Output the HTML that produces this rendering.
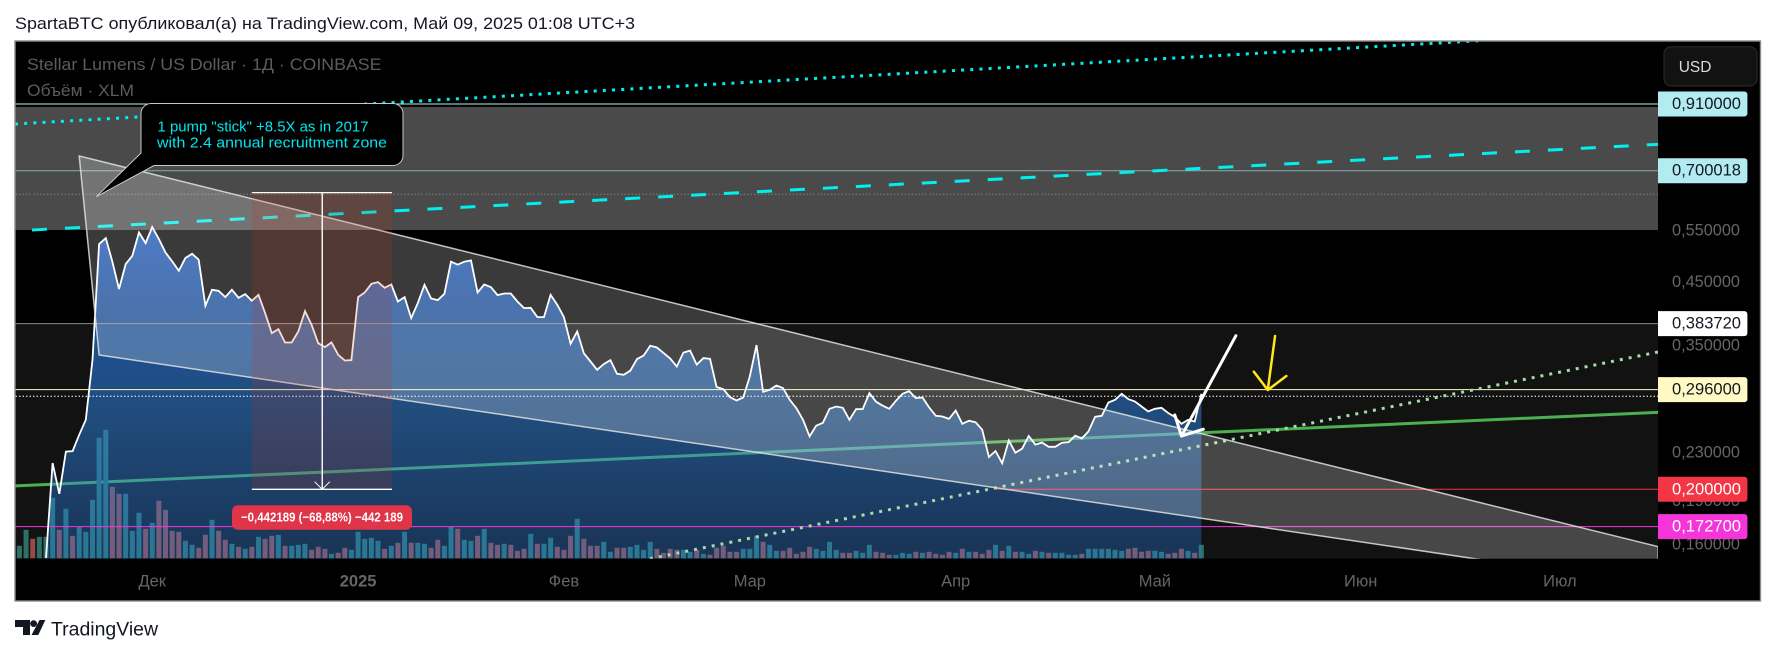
<!DOCTYPE html>
<html lang="ru">
<head>
<meta charset="utf-8">
<title>Stellar Lumens / US Dollar chart</title>
<style>
html,body{margin:0;padding:0;background:#fff;width:1776px;height:655px;overflow:hidden}
svg{display:block;font-family:"Liberation Sans","Noto Sans CJK SC",sans-serif}
</style>
</head>
<body>
<svg id="chart" xmlns="http://www.w3.org/2000/svg" width="1776" height="655" viewBox="0 0 1776 655">
  <defs>
    <clipPath id="pane-clip"><rect x="15.5" y="41.5" width="1642.5" height="517.2"/></clipPath>
    <linearGradient id="area-gradient" gradientUnits="userSpaceOnUse" x1="0" x2="0" y1="227" y2="558.7">
      <stop offset="0" stop-color="rgb(33,104,224)" stop-opacity="0.82"/>
      <stop offset="0.22" stop-color="rgb(29,97,199)" stop-opacity="0.76"/>
      <stop offset="0.58" stop-color="rgb(46,132,226)" stop-opacity="0.5"/>
      <stop offset="1" stop-color="rgb(40,130,240)" stop-opacity="0.3"/>
    </linearGradient>
  </defs>
  <text x="15" y="29" font-size="17" fill="#131722" textLength="620" lengthAdjust="spacingAndGlyphs">SpartaBTC опубликовал(а) на TradingView.com, Май 09, 2025 01:08 UTC+3</text>
  <rect x="15" y="41" width="1745" height="560" fill="#000"/>
  <g id="pane" clip-path="url(#pane-clip)"></g>
  <path d="M151,103.5 H393 a10,10 0 0 1 10,10 V155.5 a10,10 0 0 1 -10,10 H154 L96.4,196.7 L141,153 V113.5 a10,10 0 0 1 10,-10 Z" fill="#000" stroke="#c8c8c8" stroke-width="1"/>
  <text x="157.5" y="131.5" font-size="15" fill="#00e5ee" textLength="211" lengthAdjust="spacingAndGlyphs">1 pump "stick" +8.5X as in 2017</text>
  <text x="157" y="147.5" font-size="15" fill="#00e5ee" textLength="230" lengthAdjust="spacingAndGlyphs">with 2.4 annual recruitment zone</text>
  <rect x="232" y="505.3" width="180" height="24.4" rx="6" fill="#e03448"/>
  <text x="241" y="521.5" font-size="13" font-weight="bold" fill="#fff" textLength="162" lengthAdjust="spacingAndGlyphs">−0,442189 (−68,88%) −442 189</text>
  <text x="27" y="70" font-size="17" fill="#5c5c5c" textLength="354.5" lengthAdjust="spacingAndGlyphs">Stellar Lumens / US Dollar · 1Д · COINBASE</text>
  <text x="27" y="96" font-size="17" fill="#5c5c5c" textLength="107" lengthAdjust="spacingAndGlyphs">Объём · XLM</text>
  <g id="price-axis"></g>
  <g id="time-axis"></g>
  <rect x="1664" y="46.7" width="93" height="39.3" rx="7" fill="#121212" stroke="#2c2c2c" stroke-width="1"/>
  <text x="1678.7" y="72" font-size="15.5" fill="#dcdcdc">USD</text>
  <rect x="15" y="41" width="1745.5" height="560" fill="none" stroke="#8c8c8c" stroke-width="1.4"/>
  <g>
    <path d="M15,620 H30 V635 H23 V627 H15 Z" fill="#131722"/>
    <circle cx="33.6" cy="623.6" r="3.4" fill="#131722"/>
    <path d="M39.5,620 H45.3 L38.3,635 H31.5 Z" fill="#131722"/>
    <text x="51" y="635.6" font-size="19" fill="#131722" textLength="107" lengthAdjust="spacingAndGlyphs">TradingView</text>
  </g>
</svg>
<script>
const prices = [
  .1527,.2217,.1965,.2320,.2324,.2478,.2629,.3328,.5246,.5371,.4893,.4395,.4850,.5010,.5491,.5266,.5609,.5350,.5075,.4900,.4723,.4966,.5050,.4933,
  .4115,.4383,.4366,.4259,.4383,.4247,.4309,.4197,.4298,.3999,.3696,.3755,.3562,.3562,.3720,.4030,.3819,.3553,.3498,
  .3562,.3394,.3319,.3324,.4259,.4337,.4488,.4518,.4418,.4475,.4186,.4259,.3921,.4159,.4470,.4235,.4209,.4315,.4894,.4837,
  .4894,.4919,.4337,.4475,.4430,.4292,.4319,.4319,.4186,.4078,.4083,.3936,.3936,.4298,.4132,.3936,.3544,.3720,.3416,.3306,.3200,
  .3272,.3324,.3150,.3138,.3188,.3337,.3384,.3516,.3493,.3420,.3345,.3242,.3424,.3451,.3266,.3350,.3341,.2990,.2966,.2874,
  .2836,.2870,.3116,.3526,.2935,.2958,.3008,.2978,.2844,.2752,.2629,.2462,.2568,.2598,.2745,.2770,.2756,.2629,.2742,.2742,
  .2920,.2822,.2778,.2745,.2833,.2912,.2943,.2863,.2870,.2760,.2670,.2663,.2638,.2726,.2588,.2619,.2603,.2528,.2271,.2325,.2215,.2423,.2310,.2346,
  .2466,.2383,.2404,.2364,.2364,.2402,.2408,.2469,.2442,.2511,.2660,.2670,.2814,.2844,.2912,.2852,.2825,.2770,.2716,.2745,.2756,.2700,.2658,.2588,.2629,.2611,.2912
];
const volumeFirstDay = -5;
const volumes = [
  33,25,57,39,43,43,
  121,57,99,45,63,53,117,241,257,143,129,129,55,91,59,71,115,97,55,53,35,27,21,47,77,55,37,29,23,19,
  23,43,39,45,47,25,25,27,29,17,23,19,9,11,21,17,53,39,41,35,19,25,31,53,31,31,29,21,37,25,
  63,59,37,35,45,59,31,27,29,27,15,19,49,29,29,41,23,17,45,79,39,25,25,
  33,13,21,21,23,27,17,33,19,11,19,17,17,13,17,9,7,21,25,13,13,19,19,45,33,27,15,15,21,9,13,23,19,15,33,17,11,11,15,11,27,13,11,7,7,
  11,9,13,11,13,9,7,13,11,19,13,13,9,17,27,15,25,13,13,9,15,13,11,11,11,7,7,9,19,19,19,19,17,15,19,21,13,15,15,13,9,11,19,15,11,27
];
const volumeDirections = (
  'u u u d u u ' +
  'u d u d u u u u u d ' +
  'd u u u d u d d d d ' +
  'u u d d u d d u d u ' +
  'd u d d u d u u u d ' +
  'd d u d d u u u u u ' +
  'd u d u d u u d d u ' +
  'u d u u d u d d u d ' +
  'd d u d u u d d d u ' +
  'd d d u u d d u u u ' +
  'u d d d d u u d u d ' +
  'd d d d u u u d u u ' +
  'd d d d d u u u u d ' +
  'd u u u d d d u u u ' +
  'd u d d d d u d u d ' +
  'd d u d u d u u d u ' +
  'd u u u u d u u u u ' +
  'u u d d d d u u d d ' +
  'd u d u'
).split(' ');
const priceTicks = [0.55,0.45,0.35,0.23,0.19,0.16];
const priceTickLabels = ['0,550000','0,450000','0,350000','0,230000','0,190000','0,160000'];
const levelPrices = [0.91,0.700018,0.38372,0.296,0.2,0.1727];
const levelLabels = ['0,910000','0,700018','0,383720','0,296000','0,200000','0,172700'];
const timeTickDays = [16,47,78,106,137,167,198,228];
const timeTickLabels = ['Дек','2025','Фев','Мар','Апр','Май','Июн','Июл'];
const zonePrices = [0.8993,0.5545];
const dottedLevelPrices = [0.6381,0.2883];
const measureDays = [31,52.1,41.6];
const measurePrices = [0.642189,0.2];
const wedgeDays = [5,8,242.8,242.8];
const wedgePrices = [0.7417,0.3392,0.1368,0.1596];
const cyanDottedDays = [-4.67,216.1];
const cyanDottedPrices = [0.8412,1.1677];
const cyanDashedDays = [-2.11,242.8];
const cyanDashedPrices = [0.5545,0.7766];
const greenDays = [-4.67,242.8];
const greenPrices = [0.2027,0.2707];
const greenDottedDays = [90.96,242.8];
const greenDottedPrices = [0.1522,0.3432];
const whiteArrowDays = [171,179.2,170,174.3];
const whiteArrowPrices = [0.2466,0.3659,0.2679,0.2533];
const yellowArrowDays = [185.1,184,181.9,186.8];
const yellowArrowPrices = [0.3655,0.2956,0.3176,0.3122];

const NS = 'http://www.w3.org/2000/svg';
const pane = document.getElementById('pane');
const priceAxis = document.getElementById('price-axis');
const timeAxis = document.getElementById('time-axis');
const paneLeft = 15.5, paneRight = 1658, paneBottom = 558.7;
const xOf = d => 46 + 6.64 * d;
const yOf = p => 104 + 254.3 * Math.log(0.91 / p);
const volY = v => 558.3 - v * 0.5;

function mk(tag, parent, attrs) {
  const e = document.createElementNS(NS, tag);
  for (const k in attrs) e.setAttribute(k, attrs[k]);
  parent.appendChild(e);
  return e;
}
function segment(days, vals, a, b) {
  return 'M' + xOf(days[a]) + ',' + yOf(vals[a]) + ' L' + xOf(days[b]) + ',' + yOf(vals[b]);
}

let el;
el = mk('rect', pane, {x: paneLeft, y: 41, width: paneRight - paneLeft, height: yOf(levelPrices[2]) - 41, fill: '#000'});


el = mk('rect', pane, {x: paneLeft, y: yOf(levelPrices[2]), width: paneRight - paneLeft, height: paneBottom - yOf(levelPrices[2]), fill: '#121212'});


el = mk('rect', pane, {x: paneLeft, y: yOf(zonePrices[0]), width: paneRight - paneLeft, height: yOf(zonePrices[1]) - yOf(zonePrices[0]), fill: '#4a4a4a'});



el = mk('path', pane, {d: segment(greenDays, greenPrices, 0, 1), stroke: '#4caf50', 'stroke-width': 3, fill: 'none'});



volumes.forEach((v, i) => {
  const day = i + volumeFirstDay;
  const up = volumeDirections[i] === 'u';
  const bar = mk('rect', pane, {x: xOf(day) - 2.5, y: volY(v), width: 5, height: 558.3 - volY(v), fill: up ? 'rgb(44,112,104)' : 'rgb(150,75,70)'});
  
  
});

const topY = Math.min.apply(null, prices.map(yOf));
document.getElementById('area-gradient').setAttribute('y1', topY);
const linePts = prices.map((p, i) => xOf(i).toFixed(1) + ',' + yOf(p).toFixed(1));
el = mk('path', pane, {d: 'M' + xOf(0) + ',' + paneBottom + ' L' + linePts.join(' L') + ' L' + xOf(prices.length - 1) + ',' + paneBottom + ' Z', fill: 'url(#area-gradient)'});



const levelStroke = ['#b2ebf2','#86aeb3','#8a8a8a','#fff9c4','#f23645','#f535da'];
const levelStart = [paneLeft,paneLeft,paneLeft,paneLeft,xOf(143),paneLeft];
levelPrices.forEach((p, i) => {
  const line = mk('line', pane, {x1: levelStart[i], x2: paneRight, y1: yOf(p), y2: yOf(p), stroke: levelStroke[i], 'stroke-width': 1});
  
  
});
const dottedStroke = ['#808080','#ffffff'];
dottedLevelPrices.forEach((p, i) => {
  const line = mk('line', pane, {x1: paneLeft, x2: paneRight, y1: yOf(p), y2: yOf(p), stroke: dottedStroke[i], 'stroke-width': 1, 'stroke-dasharray': '1.5 2'});
  
  
});

el = mk('polyline', pane, {points: linePts.join(' '), fill: 'none', stroke: '#fff', 'stroke-width': 1.8, 'stroke-linejoin': 'miter'});



el = mk('path', pane, {d: segment(greenDottedDays, greenDottedPrices, 0, 1), stroke: '#a5dba8', 'stroke-width': 3, 'stroke-dasharray': '3 6', fill: 'none'});


el = mk('path', pane, {d: segment(cyanDottedDays, cyanDottedPrices, 0, 1), stroke: '#00f0f0', 'stroke-width': 3, 'stroke-dasharray': '3 6.2', fill: 'none'});


el = mk('path', pane, {d: segment(cyanDashedDays, cyanDashedPrices, 0, 1), stroke: '#00f0f0', 'stroke-width': 3, 'stroke-dasharray': '15 18', fill: 'none'});



el = mk('polygon', pane, {points: wedgeDays.map((d, i) => xOf(d) + ',' + yOf(wedgePrices[i])).join(' '), fill: 'rgba(255,255,255,0.227)', stroke: 'rgba(225,225,225,0.85)', 'stroke-width': 1.5});



const mx0 = xOf(measureDays[0]), mx1 = xOf(measureDays[1]), mxc = xOf(measureDays[2]);
const my0 = yOf(measurePrices[0]), my1 = yOf(measurePrices[1]);
el = mk('rect', pane, {x: mx0, y: my0, width: mx1 - mx0, height: my1 - my0, fill: 'rgba(205,50,20,0.16)'});


el = mk('line', pane, {x1: mx0, x2: mx1, y1: my0, y2: my0, stroke: '#fff', 'stroke-width': 1.3});


el = mk('line', pane, {x1: mx0, x2: mx1, y1: my1, y2: my1, stroke: '#fff', 'stroke-width': 1.3});


el = mk('line', pane, {x1: mxc, x2: mxc, y1: my0, y2: my1, stroke: '#fff', 'stroke-width': 1.4});


el = mk('polyline', pane, {points: (mxc - 7.6) + ',' + (my1 - 7.6) + ' ' + mxc + ',' + my1 + ' ' + (mxc + 7.6) + ',' + (my1 - 7.6), fill: 'none', stroke: '#fff', 'stroke-width': 1});



el = mk('path', pane, {d: segment(whiteArrowDays, whiteArrowPrices, 0, 1) + ' ' + segment(whiteArrowDays, whiteArrowPrices, 0, 2) + ' ' + segment(whiteArrowDays, whiteArrowPrices, 0, 3), stroke: '#fff', 'stroke-width': 3, fill: 'none', 'stroke-linecap': 'round'});


el = mk('path', pane, {d: segment(yellowArrowDays, yellowArrowPrices, 0, 1) + ' ' + segment(yellowArrowDays, yellowArrowPrices, 1, 2) + ' ' + segment(yellowArrowDays, yellowArrowPrices, 1, 3), stroke: '#ffe81a', 'stroke-width': 2.5, fill: 'none', 'stroke-linecap': 'round'});



priceTicks.forEach((p, i) => {
  const t = mk('text', priceAxis, {x: 1672, y: yOf(p) + 3.7, 'font-size': 16.5, fill: '#666', textLength: 68, lengthAdjust: 'spacingAndGlyphs'});
  t.textContent = priceTickLabels[i];
  
  
});
const levelBg = ['#b2ebf2','#b2ebf2','#ffffff','#fff9c4','#f23645','#f535da'];
const levelText = ['#131722','#131722','#131722','#131722','#ffffff','#ffffff'];
levelPrices.forEach((p, i) => {
  const y = yOf(p);
  const box = mk('path', priceAxis, {d: 'M1658,' + (y - 12.5) + ' H1744.4 a3,3 0 0 1 3,3 V' + (y + 9.5) + ' a3,3 0 0 1 -3,3 H1658 Z', fill: levelBg[i]});
  
  
  const t = mk('text', priceAxis, {x: 1672, y: y + 5, 'font-size': 16.5, fill: levelText[i], textLength: 69, lengthAdjust: 'spacingAndGlyphs'});
  t.textContent = levelLabels[i];
  
  
});

timeTickDays.forEach((d, i) => {
  const t = mk('text', timeAxis, {x: xOf(d), y: 586.5, 'font-size': 16.5, fill: '#666', 'text-anchor': 'middle', 'font-weight': timeTickLabels[i] === '2025' ? 'bold' : 'normal'});
  t.textContent = timeTickLabels[i];
  
  
});
</script>
</body>
</html>
